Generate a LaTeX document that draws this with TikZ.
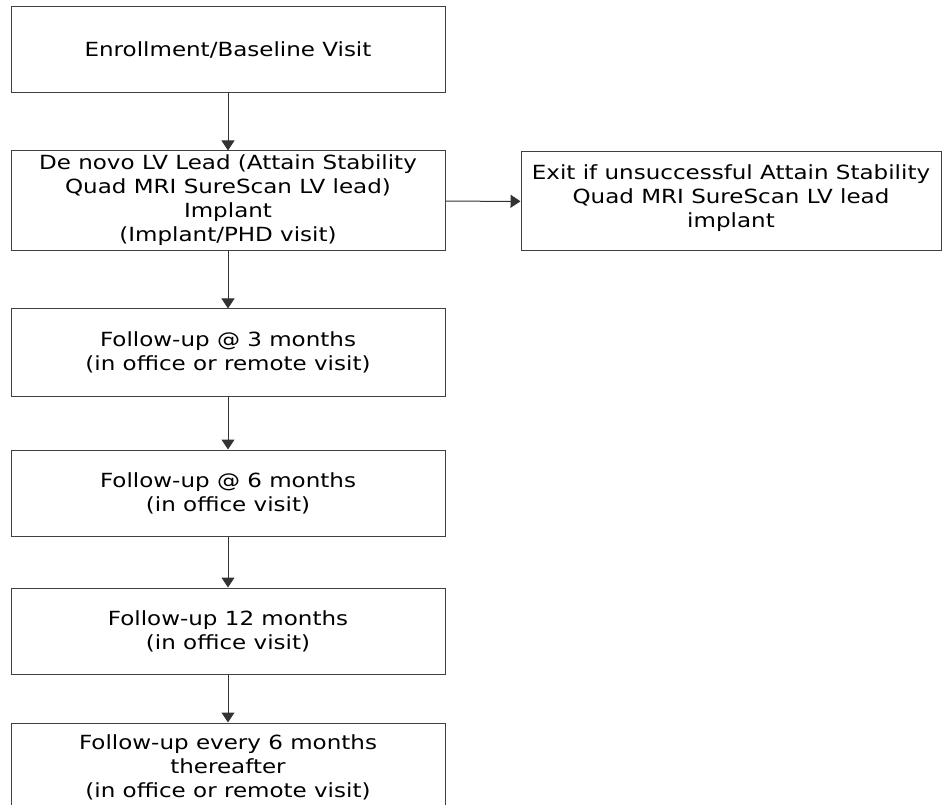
\documentclass[tikz,border=0pt]{standalone}
\usepackage{fontspec}
\setmainfont{DejaVu Sans}[FakeStretch=1.18]
\usetikzlibrary{arrows.meta}
\tikzset{
  txt/.style={align=center, font=\fontsize{19.5}{24}\selectfont},
  box/.style={draw=black!75, line width=1pt, minimum width=434pt, inner sep=0pt, txt},
  conn/.style={draw=black!80, line width=1pt, -{Triangle[width=13pt,length=10pt]}}
}
\begin{document}
\begin{tikzpicture}[x=1pt,y=-1pt]
\useasboundingbox (0,0) rectangle (943,805);
\clip (0,0) rectangle (943,805);
\node[box, minimum height=86pt] (b1) at (228,50) {Enrollment/Baseline Visit};
\node[box, minimum height=100pt] (b2) at (228,201) {\raisebox{-3pt}{\begin{tabular}{@{}c@{}}De novo LV Lead (Attain Stability\\Quad MRI SureScan LV lead)\\Implant\\(Implant/PHD visit)\end{tabular}}};
\node[box, minimum height=87pt] (b3) at (228,352.5) {Follow-up @ 3 months\\(in office or remote visit)};
\node[box, minimum height=86pt] (b4) at (228,493) {Follow-up @ 6 months\\(in office visit)};
\node[box, minimum height=86pt] (b5) at (228,631) {Follow-up 12 months\\(in office visit)};
\node[box, minimum height=88pt] (b6) at (228,767) {Follow-up every 6 months\\thereafter\\(in office or remote visit)};
\node[box, minimum width=420pt, minimum height=99pt,
  label={[txt, yshift=3pt]center:Exit if unsuccessful Attain Stability\\Quad MRI SureScan LV lead\\implant}] (ex) at (731,201.5) {};
\draw[conn] (b1) -- (b2);
\draw[conn] (b2) -- (b3);
\draw[conn] (b3) -- (b4);
\draw[conn] (b4) -- (b5);
\draw[conn] (b5) -- (b6);
\draw[conn] (b2) -- (ex);
\end{tikzpicture}
\end{document}
